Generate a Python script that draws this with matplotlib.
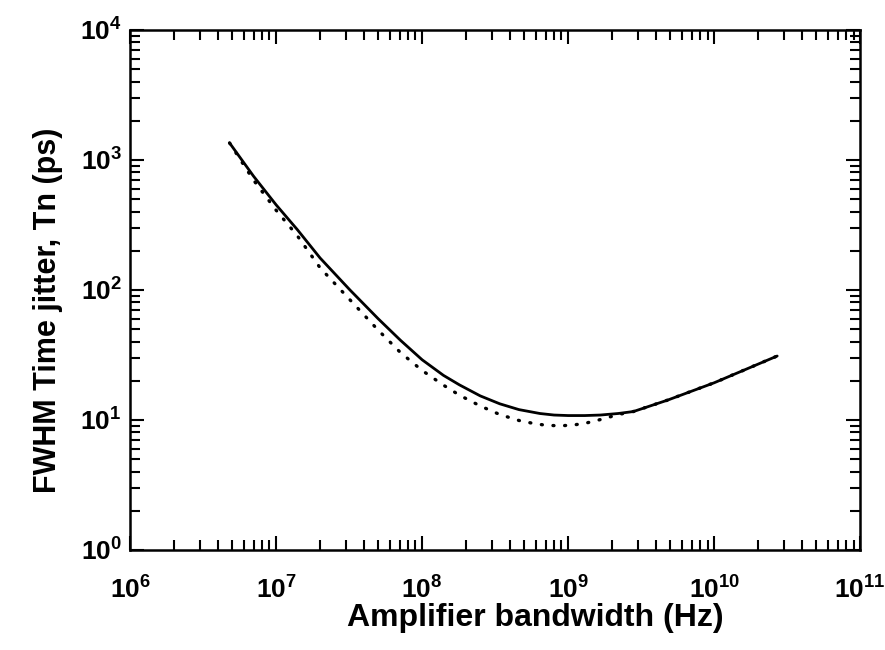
import matplotlib
matplotlib.use("Agg")
import matplotlib.pyplot as plt
import numpy as np

# フォント設定 (太字のサンセリフ)
fam = "Liberation Sans"
plt.rcParams['font.family'] = [fam, 'DejaVu Sans']
plt.rcParams['font.weight'] = 'bold'
plt.rcParams['axes.labelweight'] = 'bold'
plt.rcParams['mathtext.fontset'] = 'custom'
plt.rcParams['mathtext.rm'] = fam + ':bold'
plt.rcParams['mathtext.it'] = fam + ':bold'
plt.rcParams['mathtext.bf'] = fam + ':bold'
plt.rcParams['mathtext.default'] = 'rm'

# データ
solid_bw = [4.8e6, 7e6, 1e7, 1.4e7, 2e7, 3.2e7, 5e7, 7.1e7, 1e8, 1.4e8,
            1.8e8, 2.5e8, 3.4e8, 4.6e8, 6.4e8, 8e8, 1e9, 1.3e9, 1.66e9,
            2.2e9, 2.8e9, 4.8e9, 1e10, 2.7e10]
solid_t = [1350, 750, 451, 290, 176, 100, 60, 41, 29, 22,
           18.6, 15.3, 13.3, 12.0, 11.2, 10.9, 10.8, 10.8, 10.9,
           11.2, 11.6, 14.2, 19.3, 31]

dot_bw = [4.8e6, 7e6, 1e7, 1.4e7, 2e7, 3.2e7, 5e7, 7.1e7, 1e8, 1.4e8,
          1.8e8, 2.5e8, 3.4e8, 4.6e8, 5.75e8, 7e8, 8.8e8, 1.1e9, 1.35e9,
          1.75e9, 2.2e9, 2.8e9, 4.8e9, 1e10, 2.7e10]
dot_t = [1350, 700, 410, 260, 148, 84, 49, 33, 24, 18.5,
         15.5, 12.8, 11.0, 9.9, 9.4, 9.1, 9.0, 9.15, 9.5,
         10.2, 11.0, 11.6, 14.2, 19.3, 31]

fig = plt.figure(figsize=(8.85, 6.5), dpi=100)
ax = fig.add_axes([0.147, 0.154, 0.825, 0.80])

ax.plot(solid_bw, solid_t, color='black', lw=2.0, solid_capstyle='round',
        solid_joinstyle='round')
ax.plot(dot_bw, dot_t, color='black', lw=2.4, linestyle=(0, (0.3, 3.2)),
        dash_capstyle='round')

# 軸の設定
ax.set_xscale('log')
ax.set_yscale('log')
ax.set_xlim(1e6, 1e11)
ax.set_ylim(1e0, 1e4)
ax.set_xticks([10.0**k for k in range(6, 12)])
ax.set_yticks([10.0**k for k in range(0, 5)])

for s in ax.spines.values():
    s.set_linewidth(1.8)

ax.tick_params(which='both', direction='in', top=True, right=True, width=1.5)
ax.tick_params(which='major', length=10)
ax.tick_params(which='minor', length=7)
ax.tick_params(axis='x', which='major', pad=19, labelsize=19)
ax.tick_params(axis='y', which='major', pad=6, labelsize=19)

ax.set_xlabel("Amplifier bandwidth (Hz)", fontsize=23, labelpad=0)
ax.xaxis.label.set_x(0.555)
ax.set_ylabel("FWHM Time jitter, Tn (ps)", fontsize=22, labelpad=12)
ax.yaxis.label.set_y(0.46)

plt.savefig("out.png", dpi=100)
